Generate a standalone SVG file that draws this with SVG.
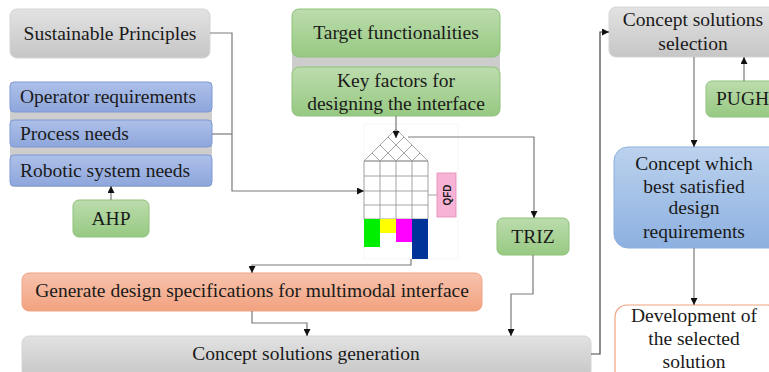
<svg xmlns="http://www.w3.org/2000/svg" width="769" height="372" viewBox="0 0 769 372">
  <defs>
    <linearGradient id="gGray" x1="0" y1="0" x2="0" y2="1">
      <stop offset="0" stop-color="#e2e2e2"/>
      <stop offset="1" stop-color="#c6c6c6"/>
    </linearGradient>
    <linearGradient id="gBlue" x1="0" y1="0" x2="0" y2="1">
      <stop offset="0" stop-color="#adc0e8"/>
      <stop offset="1" stop-color="#8ea6dc"/>
    </linearGradient>
    <linearGradient id="gGreen" x1="0" y1="0" x2="0" y2="1">
      <stop offset="0" stop-color="#bcdcad"/>
      <stop offset="1" stop-color="#97c982"/>
    </linearGradient>
    <linearGradient id="gSalmon" x1="0" y1="0" x2="0" y2="1">
      <stop offset="0" stop-color="#f7c3ad"/>
      <stop offset="1" stop-color="#f2a27f"/>
    </linearGradient>
    <linearGradient id="gSky" x1="0" y1="0" x2="0" y2="1">
      <stop offset="0" stop-color="#bcd2ee"/>
      <stop offset="1" stop-color="#8cb0e0"/>
    </linearGradient>
    <marker id="arr" viewBox="0 0 10 10" refX="10" refY="5" markerWidth="7" markerHeight="7" markerUnits="userSpaceOnUse" orient="auto">
      <path d="M0,0 L10,5 L0,10 z" fill="#111"/>
    </marker>
  </defs>
  <style>
    text { font-family: "Liberation Serif", "Times New Roman", serif; font-size: 19.5px; fill: #1a1a1a; }
    .mid { text-anchor: middle; }
    .gray { fill: url(#gGray); stroke: #d4d4d4; stroke-width: 1; }
    .blue { fill: url(#gBlue); stroke: #7e98d4; stroke-width: 1; }
    .green { fill: url(#gGreen); stroke: #8fc27a; stroke-width: 1; }
    .salmon { fill: url(#gSalmon); stroke: #f0a383; stroke-width: 1; }
    .sky { fill: url(#gSky); stroke: #8cb0e0; stroke-width: 1; }
    .panel { fill: #cdcdcd; }
    .conn { fill: none; stroke: #7a7a7a; stroke-width: 1.2; }
    .dark { stroke: #444; }
    .grid { fill: none; stroke: #9a9a9a; stroke-width: 0.9; }
  </style>

  <rect width="769" height="372" fill="#ffffff"/>

  <g id="sustainable">
    <rect class="gray" x="10" y="9" width="200" height="49" rx="7"/>
    <text class="mid" x="110" y="40">Sustainable Principles</text>
  </g>

  <g id="requirements">
    <rect class="panel" x="10" y="82" width="202" height="105" rx="4"/>
    <g id="operator">
      <rect class="blue" x="10" y="82" width="202" height="30" rx="4"/>
      <text x="20" y="103">Operator requirements</text>
    </g>
    <g id="process">
      <rect class="blue" x="10" y="120" width="202" height="27" rx="4"/>
      <text x="20" y="140">Process needs</text>
    </g>
    <g id="robotic">
      <rect class="blue" x="10" y="155" width="202" height="31" rx="4"/>
      <text x="20" y="177">Robotic system needs</text>
    </g>
  </g>

  <g id="ahp">
    <rect class="green" x="73" y="200" width="76" height="37" rx="6"/>
    <text class="mid" x="111" y="225">AHP</text>
  </g>

  <g id="functionalities">
    <rect class="panel" x="292" y="9" width="208" height="107" rx="6"/>
    <g id="target">
      <rect class="green" x="292" y="9" width="208" height="48" rx="7"/>
      <text class="mid" x="396" y="39">Target functionalities</text>
    </g>
    <g id="keyfactors">
      <rect class="green" x="292" y="67" width="208" height="49" rx="7"/>
      <text class="mid" x="396" y="87">Key factors for</text>
      <text class="mid" x="396" y="110">designing the interface</text>
    </g>
  </g>

  <g id="qfd-house">
    <rect x="364" y="124" width="94" height="135" fill="#ffffff" stroke="#f0f0f0" stroke-width="0.6"/>
    <!-- roof lattice -->
    <path class="grid" d="M364,161 L396,129 L428,161 Z"/>
    <path class="grid" d="M380,161 L404,137 M396,161 L412,145 M412,161 L420,153 M412,161 L388,137 M396,161 L380,145 M380,161 L372,153"/>
    <!-- body grid -->
    <path class="grid" d="M364,161 H428 M364,176 H428 M364,191 H428 M364,205 H428 M364,219 H428 M364,161 V219 M380,161 V219 M396,161 V219 M412,161 V219 M428,161 V219"/>
    <!-- bottom rating bars -->
    <rect x="364" y="219" width="16" height="28" fill="#00ee00"/>
    <rect x="380" y="219" width="16" height="14" fill="#ffff00"/>
    <rect x="396" y="219" width="16" height="23" fill="#ff00ff"/>
    <rect x="412" y="219" width="16" height="40" fill="#003399"/>
    <line x1="428" y1="195" x2="437" y2="195" stroke="#9a9a9a" stroke-width="0.9"/>
  </g>

  <g id="qfd-label">
    <rect x="437" y="173" width="19" height="44" fill="#f7b3d6" stroke="#e08bb8" stroke-width="0.8"/>
    <text x="0" y="0" transform="translate(451,195) rotate(-90)" class="mid" style="font-family:'Liberation Sans',Arial,sans-serif;font-size:10px;font-weight:bold;">QFD</text>
  </g>

  <g id="triz">
    <rect class="green" x="497" y="218" width="72" height="37" rx="6"/>
    <text class="mid" x="533" y="243">TRIZ</text>
  </g>

  <g id="specifications">
    <rect class="salmon" x="22" y="273" width="460" height="38" rx="7"/>
    <text class="mid" x="252" y="297">Generate design specifications for multimodal interface</text>
  </g>

  <g id="generation">
    <rect class="gray" x="22" y="336" width="569" height="42" rx="7"/>
    <text class="mid" x="306" y="360">Concept solutions generation</text>
  </g>

  <g id="selection">
    <rect class="gray" x="609" y="7" width="170" height="50" rx="7"/>
    <text class="mid" x="693" y="26">Concept solutions</text>
    <text class="mid" x="693" y="50">selection</text>
  </g>

  <g id="pugh">
    <rect class="green" x="706" y="81" width="73" height="36" rx="6"/>
    <text x="716" y="105">PUGH</text>
  </g>

  <g id="best-concept">
    <rect class="sky" x="614" y="147" width="170" height="101" rx="14"/>
    <text class="mid" x="694" y="170">Concept which</text>
    <text class="mid" x="694" y="193">best satisfied</text>
    <text class="mid" x="694" y="214">design</text>
    <text class="mid" x="694" y="238">requirements</text>
  </g>

  <g id="development">
    <rect x="615" y="305" width="165" height="80" rx="12" fill="#ffffff" stroke="#f2a27f" stroke-width="1.2"/>
    <text class="mid" x="694" y="322">Development of</text>
    <text class="mid" x="694" y="345">the selected</text>
    <text class="mid" x="694" y="368">solution</text>
  </g>

  <g id="connectors">
    <path class="conn" d="M210,33 H232 V191 H364" marker-end="url(#arr)"/>
    <path class="conn" d="M212,134 H232"/>
    <path class="conn" d="M111,200 V186" marker-end="url(#arr)"/>
    <path class="conn" d="M396,116 V138" marker-end="url(#arr)"/>
    <path class="conn" d="M408,137 H534 V218" marker-end="url(#arr)"/>
    <path class="conn" d="M411,259 V265 H252 V273" marker-end="url(#arr)"/>
    <path class="conn" d="M252,311 V323 H307 V336" marker-end="url(#arr)"/>
    <path class="conn" d="M533,255 V294 H511 V336" marker-end="url(#arr)"/>
    <path class="conn dark" d="M591,354 H600 V32 H609" marker-end="url(#arr)"/>
    <path class="conn" d="M744,81 V57" marker-end="url(#arr)"/>
    <path class="conn" d="M694,57 V147" marker-end="url(#arr)"/>
    <path class="conn" d="M694,248 V305" marker-end="url(#arr)"/>
  </g>
</svg>
